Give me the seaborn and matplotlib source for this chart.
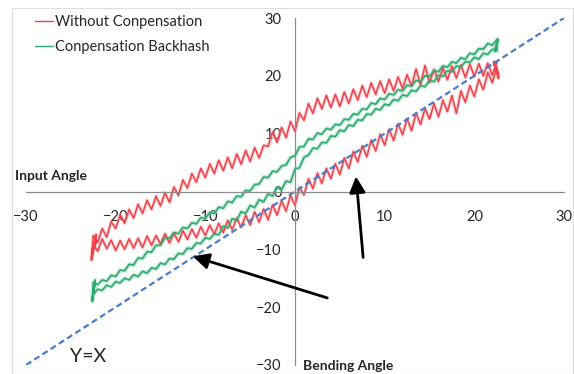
import pandas as pd
import matplotlib.pyplot as plt
import seaborn as sns
from matplotlib.patches import Rectangle

# input angle samples (deg)
ANGLE_X = [-22.5, -22.0, -21.5, -21.0, -20.5, -20.0, -19.5, -19.0, -18.5, -18.0,
           -17.5, -17.0, -16.5, -16.0, -15.5, -15.0, -14.5, -14.0, -13.5, -13.0,
           -12.5, -12.0, -11.5, -11.0, -10.5, -10.0, -9.5, -9.0, -8.5, -8.0,
           -7.5, -7.0, -6.5, -6.0, -5.5, -5.0, -4.5, -4.0, -3.5, -3.0,
           -2.5, -2.0, -1.5, -1.0, -0.5, 0.0, 0.5, 1.0, 1.5, 2.0,
           2.5, 3.0, 3.5, 4.0, 4.5, 5.0, 5.5, 6.0, 6.5, 7.0,
           7.5, 8.0, 8.5, 9.0, 9.5, 10.0, 10.5, 11.0, 11.5, 12.0,
           12.5, 13.0, 13.5, 14.0, 14.5, 15.0, 15.5, 16.0, 16.5, 17.0,
           17.5, 18.0, 18.5, 19.0, 19.5, 20.0, 20.5, 21.0, 21.5, 22.0, 22.5]

# without compensation: bending angle on the way up / on the way down
RED_RISING = [-9.2, -10.3, -8.2, -9.9, -8.4, -10.2, -8.5, -10.0, -8.2, -9.8,
              -8.1, -9.7, -7.7, -9.3, -7.6, -9.1, -7.3, -8.9, -7.2, -8.7,
              -6.8, -8.3, -6.5, -8.0, -6.1, -7.6, -5.8, -7.4, -5.5, -7.1,
              -5.0, -6.6, -4.6, -6.2, -4.1, -5.8, -3.5, -5.3, -3.0, -4.9,
              -2.3, -4.1, -1.6, -3.4, -0.7, -2.4, 0.7, -0.6, 2.2, 0.5,
              3.2, 1.4, 4.0, 2.2, 4.8, 2.9, 5.8, 4.0, 6.9, 5.1,
              7.9, 6.0, 8.9, 7.0, 9.9, 8.0, 10.8, 8.8, 11.7, 9.8,
              12.6, 10.5, 13.6, 11.6, 14.4, 12.5, 15.2, 12.9, 15.8, 13.8,
              16.6, 13.5, 17.4, 15.4, 18.3, 16.4, 19.4, 17.6, 20.6, 18.8, 21.5]
RED_FALLING = [-7.6, -8.8, -6.4, -7.9, -5.2, -6.4, -4.0, -5.5, -3.1, -4.6,
               -2.2, -3.8, -1.5, -3.1, -0.8, -2.5, -0.2, -1.9, 0.8, -0.7,
               2.0, 0.6, 3.1, 1.6, 4.0, 2.4, 4.8, 3.1, 5.4, 3.6,
               5.9, 4.0, 6.5, 4.7, 7.1, 5.2, 7.6, 5.8, 8.0, 7.8,
               10.3, 8.5, 11.1, 9.3, 12.1, 10.4, 13.6, 12.3, 15.2, 13.5,
               16.1, 14.3, 16.6, 14.5, 16.8, 14.7, 17.2, 15.2, 17.7, 15.8,
               18.3, 16.3, 18.8, 16.8, 19.1, 17.0, 19.4, 17.4, 19.8, 17.8,
               20.2, 18.2, 21.2, 18.4, 21.8, 18.8, 21.1, 19.0, 21.4, 19.3,
               21.7, 19.6, 21.9, 19.7, 22.0, 19.9, 22.1, 20.0, 22.2, 20.1, 22.3]
RED_TURN_RIGHT_X = [22.7, 22.2, 22.7, 22.2, 22.7, 22.2, 22.7, 22.2, 22.7, 22.3]
RED_TURN_RIGHT_Y = [19.5, 22.4, 19.8, 22.5, 20.0, 22.2, 19.7, 22.0, 20.3, 21.9]
RED_TURN_LEFT_X = [-22.7, -22.2, -22.7, -22.2, -22.7, -22.2, -22.7, -22.2, -22.7, -22.2, -22.7]
RED_TURN_LEFT_Y = [-11.6, -7.4, -11.9, -7.6, -11.3, -7.8, -11.7, -8.2, -11.0, -8.8, -10.6]

# backlash compensated loop
GREEN_RISING = [-17.8, -16.9, -17.1, -16.2, -16.5, -15.6, -15.8, -15.0, -15.3, -14.4,
                -14.7, -13.8, -14.1, -13.2, -13.4, -12.4, -12.6, -11.6, -11.7, -10.7,
                -10.8, -9.8, -9.9, -8.9, -9.0, -8.0, -8.2, -7.3, -7.5, -6.0,
                -6.3, -4.7, -5.0, -3.5, -3.8, -2.4, -2.8, -1.4, -1.8, -0.4,
                -0.8, 0.7, 0.3, 1.8, 1.6, 3.9, 4.1, 5.9, 6.3, 7.5,
                7.4, 8.5, 8.4, 9.6, 9.5, 10.6, 10.4, 11.5, 11.3, 12.4,
                12.3, 13.4, 13.3, 14.3, 14.1, 15.1, 14.9, 15.9, 15.7, 16.7,
                16.5, 17.5, 17.3, 18.3, 18.1, 19.2, 19.0, 20.1, 19.9, 20.9,
                20.7, 21.7, 21.5, 22.5, 22.3, 23.2, 22.9, 23.9, 23.7, 24.6, 24.3]
GREEN_FALLING = [-15.7, -16.1, -15.3, -15.5, -14.5, -14.7, -13.6, -13.7, -12.6, -12.7,
                 -11.5, -11.6, -10.4, -10.5, -9.3, -9.3, -8.0, -8.1, -7.1, -7.3,
                 -6.2, -6.4, -5.4, -5.6, -4.5, -4.7, -3.6, -3.8, -2.7, -2.9,
                 -1.7, -1.9, -0.8, -0.9, 0.2, 0.1, 1.2, 1.3, 2.5, 2.4,
                 3.5, 3.4, 4.4, 4.6, 5.9, 6.2, 7.7, 7.8, 9.1, 9.0,
                 10.1, 9.9, 10.9, 10.7, 11.6, 11.5, 12.5, 12.4, 13.4, 13.3,
                 14.3, 14.2, 15.3, 15.1, 16.1, 15.9, 16.9, 16.7, 17.6, 17.4,
                 18.4, 18.2, 19.2, 19.0, 20.0, 19.9, 20.9, 20.7, 21.7, 21.5,
                 22.4, 22.2, 23.1, 22.9, 23.9, 23.7, 24.7, 24.6, 25.6, 25.3, 26.2]
GREEN_TURN_RIGHT_X = [22.6, 22.3, 22.6, 22.3, 22.6]
GREEN_TURN_RIGHT_Y = [26.4, 24.2, 26.1, 24.5, 25.9]
GREEN_TURN_LEFT_X = [-22.6, -22.3, -22.6, -22.3, -22.6]
GREEN_TURN_LEFT_Y = [-18.8, -15.3, -19.0, -15.8, -18.4]

IDENTITY = [-30, 30]
TICKS = [-30, -20, -10, 0, 10, 20, 30]

RED = "#f0404a"
RED_SOFT = "#f7a0a4"
GREEN = "#2eab6f"
GREEN_SOFT = "#8fd6b2"
BLUE = "#4a7cc8"
W, H = 574, 374


def loop_frame(x, rising, falling, rx, ry, lx, ly):
    # walk the loop: up along rising, turn, back along falling, turn
    xs = list(x) + rx + list(x)[::-1] + lx + [x[0]]
    ys = list(rising) + ry + list(falling)[::-1] + ly + [rising[0]]
    return pd.DataFrame({"input": xs, "bending": ys})


def main():
    sns.set_style("white")
    plt.rcParams["font.family"] = ["Lato", "DejaVu Sans"]

    red = loop_frame(ANGLE_X, RED_RISING, RED_FALLING,
                     RED_TURN_RIGHT_X, RED_TURN_RIGHT_Y, RED_TURN_LEFT_X, RED_TURN_LEFT_Y)
    green = loop_frame(ANGLE_X, GREEN_RISING, GREEN_FALLING,
                       GREEN_TURN_RIGHT_X, GREEN_TURN_RIGHT_Y, GREEN_TURN_LEFT_X, GREEN_TURN_LEFT_Y)

    fig = plt.figure(figsize=(W / 100, H / 100), dpi=100)
    ax = fig.add_axes([26 / W, 9 / H, 538 / W, 347 / H])

    # soft halo under each trace, like the blurred original
    sns.lineplot(data=red, x="input", y="bending", sort=False, estimator=None,
                 color=RED_SOFT, lw=2.6, alpha=0.45, ax=ax)
    sns.lineplot(data=green, x="input", y="bending", sort=False, estimator=None,
                 color=GREEN_SOFT, lw=3.0, alpha=0.5, ax=ax)
    sns.lineplot(data=red, x="input", y="bending", sort=False, estimator=None,
                 color=RED, lw=1.1, ax=ax, label="Without Conpensation")
    sns.lineplot(data=green, x="input", y="bending", sort=False, estimator=None,
                 color=GREEN, lw=1.2, ax=ax, label="Conpensation Backhash")
    ax.plot(IDENTITY, IDENTITY, color=BLUE, lw=1.6, linestyle=(0, (2.8, 1.6)))

    ax.set_xlim(-30, 30)
    ax.set_ylim(-30, 30)
    ax.set_xticks(TICKS)
    ax.set_yticks(TICKS)
    ax.set_xlabel("")
    ax.set_ylabel("")
    for side in ["left", "bottom"]:
        ax.spines[side].set_position(("data", 0))
        ax.spines[side].set_color("#8c8c8c")
        ax.spines[side].set_linewidth(0.9)
    ax.spines["top"].set_visible(False)
    ax.spines["right"].set_visible(False)
    ax.tick_params(direction="inout", length=6, width=0.8, color="#a6a6a6",
                   labelsize=10.5, labelcolor="#262626")
    ax.tick_params(axis="x", pad=10.5)
    ax.tick_params(axis="y", pad=6.5)

    # arrows pointing at the two branches
    arrow = dict(arrowstyle="-|>", color="black", lw=2, mutation_scale=24,
                 shrinkA=0, shrinkB=0)
    ax.annotate("", xy=(-11.4, -11.2), xytext=(3.6, -18.4), arrowprops=arrow)
    ax.annotate("", xy=(6.8, 2.6), xytext=(7.6, -11.4), arrowprops=arrow)

    fig.text(15 / W, 1 - 176 / H, "Input Angle", fontsize=10, fontweight="bold",
             ha="left", va="center")
    fig.text(303 / W, 1 - 366 / H, "Bending Angle", fontsize=10, fontweight="bold",
             ha="left", va="center")
    fig.text(70 / W, 1 - 356 / H, "Y=X", fontsize=14, ha="left", va="center")

    handles, labels = ax.get_legend_handles_labels()
    leg = ax.legend(handles[:2], labels[:2], loc="upper left",
                    bbox_to_anchor=(35 / W, 1 - 15 / H), bbox_transform=fig.transFigure,
                    frameon=False, fontsize=10.5, handlelength=1.2, handletextpad=0.15,
                    borderpad=0, borderaxespad=0, labelspacing=0.75, labelcolor="#262626")
    for line in leg.get_lines():
        line.set_linewidth(1.0)

    fig.patches.append(Rectangle((12 / W, 0.5 / H), 561 / W, 365.5 / H,
                                 transform=fig.transFigure, fill=False,
                                 edgecolor="#dedede", lw=0.8))

    fig.savefig("out.png", dpi=100)


if __name__ == "__main__":
    main()
